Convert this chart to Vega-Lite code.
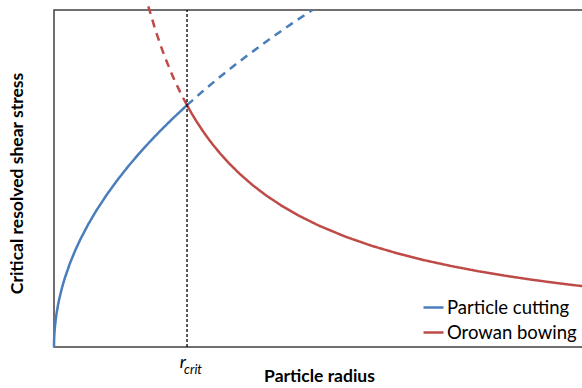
{
  "$schema": "https://vega.github.io/schema/vega-lite/v6.json",
  "width": 530,
  "height": 337,
  "autosize": {"type": "none"},
  "padding": {"left": 54, "top": 10, "right": 0, "bottom": 41},
  "config": {
    "font": "Lato",
    "view": {"stroke": "#404040", "strokeWidth": 1.5},
    "axis": {"domain": false, "ticks": false, "labels": false, "grid": false, "titleFont": "Lato", "titleFontWeight": "bold", "titleFontSize": 17.5, "titleColor": "#000000"}
  },
  "layer": [
    {
      "data": {"values": [
        {"series": "Particle cutting", "part": "solid", "seg": "cut-solid", "x": 0, "y": 0},
        {"series": "Particle cutting", "part": "solid", "seg": "cut-solid", "x": 0.002, "y": 0.203},
        {"series": "Particle cutting", "part": "solid", "seg": "cut-solid", "x": 0.005, "y": 0.32},
        {"series": "Particle cutting", "part": "solid", "seg": "cut-solid", "x": 0.01, "y": 0.453},
        {"series": "Particle cutting", "part": "solid", "seg": "cut-solid", "x": 0.02, "y": 0.641},
        {"series": "Particle cutting", "part": "solid", "seg": "cut-solid", "x": 0.035, "y": 0.848},
        {"series": "Particle cutting", "part": "solid", "seg": "cut-solid", "x": 0.05, "y": 1.013},
        {"series": "Particle cutting", "part": "solid", "seg": "cut-solid", "x": 0.075, "y": 1.241},
        {"series": "Particle cutting", "part": "solid", "seg": "cut-solid", "x": 0.1, "y": 1.432},
        {"series": "Particle cutting", "part": "solid", "seg": "cut-solid", "x": 0.15, "y": 1.755},
        {"series": "Particle cutting", "part": "solid", "seg": "cut-solid", "x": 0.2, "y": 2.026},
        {"series": "Particle cutting", "part": "solid", "seg": "cut-solid", "x": 0.3, "y": 2.481},
        {"series": "Particle cutting", "part": "solid", "seg": "cut-solid", "x": 0.4, "y": 2.865},
        {"series": "Particle cutting", "part": "solid", "seg": "cut-solid", "x": 0.5, "y": 3.203},
        {"series": "Particle cutting", "part": "solid", "seg": "cut-solid", "x": 0.65, "y": 3.652},
        {"series": "Particle cutting", "part": "solid", "seg": "cut-solid", "x": 0.8, "y": 4.052},
        {"series": "Particle cutting", "part": "solid", "seg": "cut-solid", "x": 1.0, "y": 4.53},
        {"series": "Particle cutting", "part": "solid", "seg": "cut-solid", "x": 1.2, "y": 4.962},
        {"series": "Particle cutting", "part": "solid", "seg": "cut-solid", "x": 1.4, "y": 5.36},
        {"series": "Particle cutting", "part": "solid", "seg": "cut-solid", "x": 1.6, "y": 5.73},
        {"series": "Particle cutting", "part": "solid", "seg": "cut-solid", "x": 1.8, "y": 6.078},
        {"series": "Particle cutting", "part": "solid", "seg": "cut-solid", "x": 2.0, "y": 6.406},
        {"series": "Particle cutting", "part": "solid", "seg": "cut-solid", "x": 2.25, "y": 6.795},
        {"series": "Particle cutting", "part": "solid", "seg": "cut-solid", "x": 2.51, "y": 7.177},
        {"series": "Particle cutting", "part": "dashed", "seg": "cut-dashed", "x": 2.51, "y": 7.177},
        {"series": "Particle cutting", "part": "dashed", "seg": "cut-dashed", "x": 2.8, "y": 7.58},
        {"series": "Particle cutting", "part": "dashed", "seg": "cut-dashed", "x": 3.1, "y": 7.976},
        {"series": "Particle cutting", "part": "dashed", "seg": "cut-dashed", "x": 3.5, "y": 8.475},
        {"series": "Particle cutting", "part": "dashed", "seg": "cut-dashed", "x": 4.0, "y": 9.06},
        {"series": "Particle cutting", "part": "dashed", "seg": "cut-dashed", "x": 4.5, "y": 9.61},
        {"series": "Particle cutting", "part": "dashed", "seg": "cut-dashed", "x": 4.87, "y": 9.997},
        {"series": "Orowan bowing", "part": "dashed", "seg": "oro-dashed", "x": 1.78, "y": 10.11},
        {"series": "Orowan bowing", "part": "dashed", "seg": "oro-dashed", "x": 1.9, "y": 9.474},
        {"series": "Orowan bowing", "part": "dashed", "seg": "oro-dashed", "x": 2.0, "y": 9.0},
        {"series": "Orowan bowing", "part": "dashed", "seg": "oro-dashed", "x": 2.1, "y": 8.571},
        {"series": "Orowan bowing", "part": "dashed", "seg": "oro-dashed", "x": 2.25, "y": 8.0},
        {"series": "Orowan bowing", "part": "dashed", "seg": "oro-dashed", "x": 2.4, "y": 7.5},
        {"series": "Orowan bowing", "part": "dashed", "seg": "oro-dashed", "x": 2.51, "y": 7.177},
        {"series": "Orowan bowing", "part": "solid", "seg": "oro-solid", "x": 2.51, "y": 7.177},
        {"series": "Orowan bowing", "part": "solid", "seg": "oro-solid", "x": 2.6, "y": 6.923},
        {"series": "Orowan bowing", "part": "solid", "seg": "oro-solid", "x": 2.7, "y": 6.667},
        {"series": "Orowan bowing", "part": "solid", "seg": "oro-solid", "x": 2.8, "y": 6.429},
        {"series": "Orowan bowing", "part": "solid", "seg": "oro-solid", "x": 2.9, "y": 6.207},
        {"series": "Orowan bowing", "part": "solid", "seg": "oro-solid", "x": 3.0, "y": 6.0},
        {"series": "Orowan bowing", "part": "solid", "seg": "oro-solid", "x": 3.15, "y": 5.714},
        {"series": "Orowan bowing", "part": "solid", "seg": "oro-solid", "x": 3.3, "y": 5.455},
        {"series": "Orowan bowing", "part": "solid", "seg": "oro-solid", "x": 3.5, "y": 5.143},
        {"series": "Orowan bowing", "part": "solid", "seg": "oro-solid", "x": 3.75, "y": 4.8},
        {"series": "Orowan bowing", "part": "solid", "seg": "oro-solid", "x": 4.0, "y": 4.5},
        {"series": "Orowan bowing", "part": "solid", "seg": "oro-solid", "x": 4.3, "y": 4.186},
        {"series": "Orowan bowing", "part": "solid", "seg": "oro-solid", "x": 4.6, "y": 3.913},
        {"series": "Orowan bowing", "part": "solid", "seg": "oro-solid", "x": 5.0, "y": 3.6},
        {"series": "Orowan bowing", "part": "solid", "seg": "oro-solid", "x": 5.5, "y": 3.273},
        {"series": "Orowan bowing", "part": "solid", "seg": "oro-solid", "x": 6.0, "y": 3.0},
        {"series": "Orowan bowing", "part": "solid", "seg": "oro-solid", "x": 6.5, "y": 2.769},
        {"series": "Orowan bowing", "part": "solid", "seg": "oro-solid", "x": 7.0, "y": 2.571},
        {"series": "Orowan bowing", "part": "solid", "seg": "oro-solid", "x": 7.5, "y": 2.4},
        {"series": "Orowan bowing", "part": "solid", "seg": "oro-solid", "x": 8.0, "y": 2.25},
        {"series": "Orowan bowing", "part": "solid", "seg": "oro-solid", "x": 8.5, "y": 2.118},
        {"series": "Orowan bowing", "part": "solid", "seg": "oro-solid", "x": 9.0, "y": 2.0},
        {"series": "Orowan bowing", "part": "solid", "seg": "oro-solid", "x": 9.5, "y": 1.895},
        {"series": "Orowan bowing", "part": "solid", "seg": "oro-solid", "x": 10.0, "y": 1.8}
      ]},
      "mark": {"type": "line", "strokeWidth": 2.5, "clip": false},
      "encoding": {
        "x": {"field": "x", "type": "quantitative", "scale": {"domain": [0, 10], "nice": false, "zero": false}, "title": "Particle radius", "axis": {"titlePadding": 20}},
        "y": {"field": "y", "type": "quantitative", "scale": {"domain": [0, 10], "nice": false, "zero": false}, "title": "Critical resolved shear stress", "axis": {"titlePadding": 28, "titleY": 173}},
        "detail": {"field": "seg"},
        "color": {"field": "series", "type": "nominal", "scale": {"domain": ["Particle cutting", "Orowan bowing"], "range": ["#4A7EBB", "#BE4B48"]}, "legend": {"title": null, "orient": "none", "legendX": 368, "legendY": 286, "symbolType": "stroke", "symbolSize": 400, "symbolStrokeWidth": 2.5, "labelFont": "Lato", "labelFontSize": 18.5, "labelColor": "#000000", "rowPadding": 4, "labelOffset": 2}},
        "strokeDash": {"field": "part", "type": "nominal", "scale": {"domain": ["solid", "dashed"], "range": [[1, 0], [8, 6]]}, "legend": null}
      }
    },
    {
      "data": {"values": [{"x": 2.51, "y": 0, "y2": 10}]},
      "mark": {"type": "rule", "color": "#000000", "strokeWidth": 1.3, "strokeDash": [3, 2]},
      "encoding": {
        "x": {"field": "x", "type": "quantitative"},
        "y": {"field": "y", "type": "quantitative"},
        "y2": {"field": "y2"}
      }
    },
    {
      "data": {"values": [{"label": "r", "x": 2.51, "y": 0}]},
      "mark": {"type": "text", "font": "Lato", "fontStyle": "italic", "fontSize": 18, "align": "right", "baseline": "middle", "dx": -1, "dy": 16, "color": "#000000"},
      "encoding": {
        "x": {"field": "x", "type": "quantitative"},
        "y": {"field": "y", "type": "quantitative"},
        "text": {"field": "label"}
      }
    },
    {
      "data": {"values": [{"label": "crit", "x": 2.51, "y": 0}]},
      "mark": {"type": "text", "font": "Lato", "fontStyle": "italic", "fontSize": 13, "align": "left", "baseline": "middle", "dx": -3, "dy": 23, "color": "#000000"},
      "encoding": {
        "x": {"field": "x", "type": "quantitative"},
        "y": {"field": "y", "type": "quantitative"},
        "text": {"field": "label"}
      }
    }
  ]
}
